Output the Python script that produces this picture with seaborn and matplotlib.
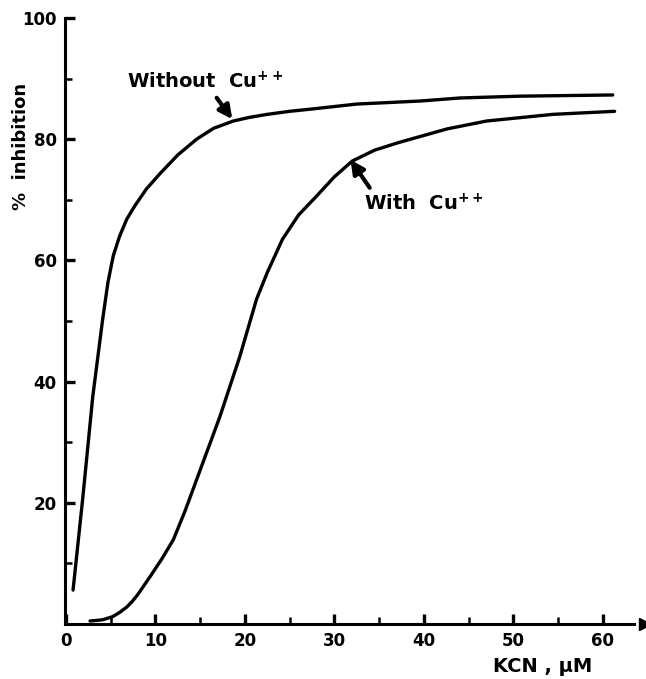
import matplotlib
matplotlib.use("Agg")
import matplotlib.pyplot as plt
import numpy as np
import pandas as pd
import seaborn as sns
from matplotlib.ticker import MultipleLocator

# values
without_x = [0.8, 1.9, 3.0, 4.1, 4.7, 5.3, 6.0, 6.8, 7.7, 9.0, 10.5, 12.5, 14.6, 16.5, 18.7,
             20.5, 22.5, 25.0, 27.6, 32.5, 39.6, 44.0, 50.7, 61.1]
without_y = [5.6, 21.0, 37.5, 50.2, 56.4, 60.8, 64.0, 66.8, 69.0, 71.8, 74.3, 77.4, 80.0,
             81.8, 83.0, 83.6, 84.1, 84.6, 85.0, 85.8, 86.3, 86.8, 87.1, 87.3]

with_x = [2.7, 3.5, 4.1, 5.2, 6.0, 6.8, 7.4, 8.0, 9.4, 10.7, 12.0, 13.3, 14.6, 17.2, 19.4,
          21.3, 22.5, 24.2, 26.0, 28.0, 30.0, 32.0, 34.5, 37.3, 42.6, 47.0, 54.4, 61.3]
with_y = [0.5, 0.6, 0.7, 1.2, 1.9, 2.8, 3.7, 4.8, 7.8, 10.7, 13.9, 18.6, 23.8, 34.2, 44.0,
          53.6, 58.0, 63.5, 67.5, 70.6, 73.8, 76.4, 78.2, 79.5, 81.7, 83.0, 84.1, 84.6]

x_ticks = [0, 10, 20, 30, 40, 50, 60]
y_ticks = [20, 40, 60, 80, 100]

sns.set_theme(style="ticks", rc={"text.color": "black", "axes.edgecolor": "black",
                                 "xtick.color": "black", "ytick.color": "black",
                                 "axes.labelcolor": "black"})
plt.rcParams["font.family"] = ["DejaVu Sans"]
plt.rcParams["mathtext.default"] = "bf"

df_without = pd.DataFrame({"KCN": without_x, "inhibition": without_y})
df_with = pd.DataFrame({"KCN": with_x, "inhibition": with_y})

fig = plt.figure(figsize=(6.46, 6.79), dpi=100)
ax = fig.add_axes([65 / 646, 55 / 679, 580 / 646, 606 / 679])

for df in (df_without, df_with):
    sns.lineplot(data=df, x="KCN", y="inhibition", color="black", lw=2.4,
                 sort=False, estimator=None, ax=ax)
for line in ax.lines:
    line.set_solid_joinstyle("round")
    line.set_solid_capstyle("round")

ax.set_xlim(-0.1, 64.7)
ax.set_ylim(0, 100)
ax.spines["top"].set_visible(False)
ax.spines["right"].set_visible(False)
ax.spines["left"].set_linewidth(2.2)
ax.spines["bottom"].set_linewidth(2.2)
ax.spines["bottom"].set_bounds(-0.1, 63.5)
ax.plot(64.7, 0, marker=">", color="black", markersize=9, clip_on=False)

ax.set_xticks(x_ticks)
ax.set_yticks(y_ticks)
ax.xaxis.set_minor_locator(MultipleLocator(5))
ax.yaxis.set_minor_locator(MultipleLocator(10))
ax.tick_params(which="major", direction="in", length=7, width=2.4,
               labelsize=12, pad=6)
ax.tick_params(which="minor", direction="in", length=5, width=1.8)
for lbl in ax.get_xticklabels() + ax.get_yticklabels():
    lbl.set_fontweight("bold")

ax.set_xlabel("")
ax.set_ylabel("")
fig.text(543 / 646, 1 - 666 / 679, "KCN , \u00b5M", ha="center", va="center",
         fontsize=14, fontweight="bold")
fig.text(21 / 646, 1 - 146 / 679, "%  inhibition", rotation=90, ha="center",
         va="center", fontsize=13, fontweight="bold")

ax.annotate("Without  Cu$^{++}$", xy=(18.6, 83.3), xytext=(6.8, 89.5),
            fontsize=14, fontweight="bold", ha="left", va="center",
            arrowprops=dict(arrowstyle="-|>", color="black", lw=3,
                            mutation_scale=20, shrinkA=2, shrinkB=0,
                            relpos=(0.55, 0.0)))
ax.annotate("With  Cu$^{++}$", xy=(31.8, 76.6), xytext=(33.3, 69.3),
            fontsize=14, fontweight="bold", ha="left", va="center",
            arrowprops=dict(arrowstyle="-|>", color="black", lw=3,
                            mutation_scale=20, shrinkA=2, shrinkB=0,
                            relpos=(0.08, 1.0)))

fig.savefig("out.png", dpi=100)
